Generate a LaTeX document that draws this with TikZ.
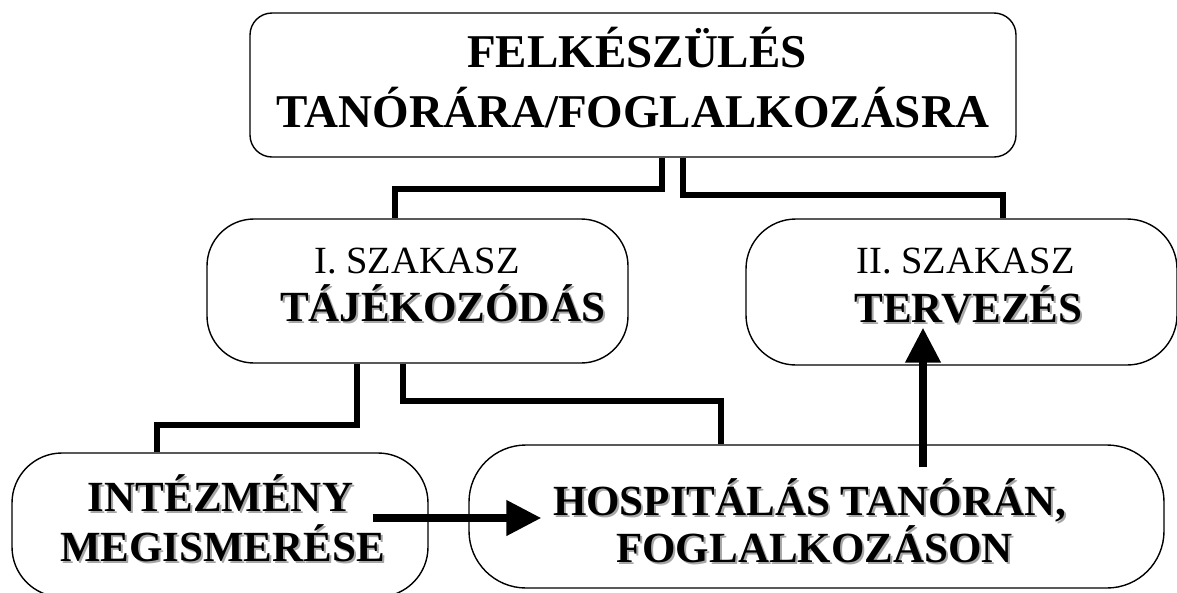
\documentclass[tikz,border=0pt]{standalone}
\usepackage{fontspec}
\setmainfont{Liberation Serif}
\usetikzlibrary{arrows.meta,calc}
\newcommand\shd[1]{\leavevmode\rlap{\kern2pt\raisebox{-2pt}{\color{black!35}#1}}#1}
\begin{document}
\begin{tikzpicture}[x=1pt,y=-1pt,
  box/.style={draw,line width=1.4pt,rounded corners=#1,inner sep=0pt},
  conn/.style={line width=6pt,line cap=butt,line join=miter},
  arr/.style={line width=7.5pt,-{Triangle[length=35pt,width=34pt]}},
  ttl/.style={font=\fontsize{47}{51}\selectfont\bfseries,anchor=base,inner sep=0pt},
  reg/.style={font=\fontsize{38.5}{42}\selectfont,anchor=base,inner sep=0pt},
  bld/.style={font=\fontsize{43}{47}\selectfont\bfseries,anchor=base,inner sep=0pt}]
\useasboundingbox (0,0) rectangle (1177,592);
% boxes
\node[box=22pt,minimum width=766pt,minimum height=144pt] (top) at (633,85) {};
\node[box=47pt,minimum width=421pt,minimum height=144pt] (one) at (417.5,291) {};
\node[box=50pt,minimum width=431pt,minimum height=146pt] (two) at (961.5,292) {};
\node[box=50pt,minimum width=416pt,minimum height=144pt] (inst) at (220,525) {};
\node[box=57pt,minimum width=695pt,minimum height=143pt] (hosp) at (816.5,516.5) {};
% texts
\node[ttl] (t1) at (637,67) {FELKÉSZÜLÉS};
\node[ttl] (t2) at (633,127) {TANÓRÁRA/FOGLALKOZÁSRA};
\node[reg] (o1) at (417,273) {I. SZAKASZ};
\node[bld] (o2) at (442.5,321) {\shd{TÁJÉKOZÓDÁS}};
\node[reg] (w1) at (965.5,273) {II. SZAKASZ};
\node[bld] (w2) at (968.5,322) {\shd{TERVEZÉS}};
\node[bld] (i1) at (220.5,511) {\shd{INTÉZMÉNY}};
\node[bld] (i2) at (222.5,561) {\shd{MEGISMERÉSE}};
\node[bld] (h1) at (809.5,515) {\shd{HOSPITÁLÁS TANÓRÁN,}};
\node[bld] (h2) at (814.5,562) {\shd{FOGLALKOZÁSON}};
% connectors
\draw[conn] ($(top.south)+(29,0)$) -- ++(0,31) -| ($(one.north)+(-22.5,0)$);
\draw[conn] ($(top.south)+(50,0)$) -- ++(0,37) -| ($(two.north)+(41.5,0)$);
\draw[conn] ($(one.south)+(-60.5,0)$) -- ++(0,61) -| ($(inst.north)+(-63,0)$);
\draw[conn] ($(one.south)+(-14.5,0)$) -- ++(0,37) -| ($(hosp.north)+(-95.5,0)$);
% arrows
\draw[arr] ($(inst.east)+(-56,-7)$) -- ($(hosp.west)+(73,1.5)$);
\draw[arr] ($(hosp.north)+(106.5,23)$) -- ($(two.south)+(-38.5,-38)$);
\end{tikzpicture}
\end{document}
